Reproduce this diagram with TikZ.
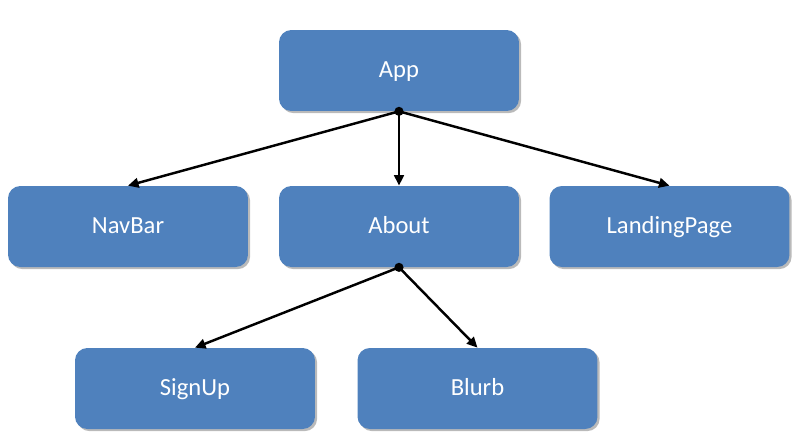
\documentclass[tikz,border=0pt]{standalone}
\usepackage{fontspec}
\setmainfont{Carlito}
\usetikzlibrary{arrows.meta,shadows}
\definecolor{boxblue}{RGB}{79,129,189}
\tikzset{
	comp/.style={rounded corners=7pt, fill=boxblue, text=white, minimum width=4.8cm, minimum height=1.62cm,
		font=\fontsize{14}{16}\selectfont, text height=1.75ex, text depth=0.15ex,
		drop shadow={shadow xshift=1.2pt, shadow yshift=-1.2pt, opacity=0.45, fill=black!60}},
	link/.style={line width=1.4pt, -{Triangle[length=6pt,width=5.5pt]}}
}

\begin{document}
\begin{tikzpicture}[x=0.02cm,y=-0.02cm]
	\useasboundingbox (0,0) rectangle (803,444);
	\node[comp] (app) at (399,70.5) {App};
	\node[comp] (navbar) at (128,226.5) {NavBar};
	\node[comp] (about) at (399,226.5) {About};
	\node[comp] (landing) at (669.5,226.5) {LandingPage};
	\node[comp] (signup) at (195,388.5) {SignUp};
	\node[comp] (blurb) at (477.5,388.5) {Blurb};
	\foreach \c in {navbar,about,landing}
		\draw[link] (app.south) -- (\c.north);
	\foreach \c in {signup,blurb}
		\draw[link] (about.south) -- (\c.north);
	\fill (app.south) circle (2.6pt);
	\fill (about.south) circle (2.6pt);
\end{tikzpicture}
\end{document}
